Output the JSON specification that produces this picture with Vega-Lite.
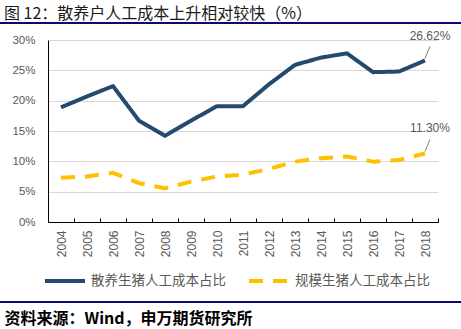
{
  "$schema": "https://vega.github.io/schema/vega-lite/v6.json",
  "width": 390,
  "height": 182,
  "autosize": {"type": "none"},
  "padding": {"left": 48, "top": 40, "right": 23, "bottom": 107},
  "background": "white",
  "title": {
    "text": "图 12：散养户人工成本上升相对较快（%）",
    "anchor": "start",
    "frame": "group",
    "orient": "top",
    "offset": 0,
    "dx": -44,
    "dy": 0,
    "font": "Noto Sans CJK SC",
    "fontSize": 16,
    "fontWeight": "normal",
    "color": "#1a1a1a"
  },
  "config": {
    "view": {"stroke": null},
    "font": "Liberation Sans"
  },
  "datasets": {
    "d": [
      {"year": "2004", "series": "散养生猪人工成本占比", "value": 0.189},
      {"year": "2005", "series": "散养生猪人工成本占比", "value": 0.207},
      {"year": "2006", "series": "散养生猪人工成本占比", "value": 0.224},
      {"year": "2007", "series": "散养生猪人工成本占比", "value": 0.167},
      {"year": "2008", "series": "散养生猪人工成本占比", "value": 0.142},
      {"year": "2009", "series": "散养生猪人工成本占比", "value": 0.167},
      {"year": "2010", "series": "散养生猪人工成本占比", "value": 0.191},
      {"year": "2011", "series": "散养生猪人工成本占比", "value": 0.191},
      {"year": "2012", "series": "散养生猪人工成本占比", "value": 0.227},
      {"year": "2013", "series": "散养生猪人工成本占比", "value": 0.259},
      {"year": "2014", "series": "散养生猪人工成本占比", "value": 0.271},
      {"year": "2015", "series": "散养生猪人工成本占比", "value": 0.278},
      {"year": "2016", "series": "散养生猪人工成本占比", "value": 0.247},
      {"year": "2017", "series": "散养生猪人工成本占比", "value": 0.248},
      {"year": "2018", "series": "散养生猪人工成本占比", "value": 0.2662},
      {"year": "2004", "series": "规模生猪人工成本占比", "value": 0.073},
      {"year": "2005", "series": "规模生猪人工成本占比", "value": 0.075},
      {"year": "2006", "series": "规模生猪人工成本占比", "value": 0.081},
      {"year": "2007", "series": "规模生猪人工成本占比", "value": 0.064},
      {"year": "2008", "series": "规模生猪人工成本占比", "value": 0.0555},
      {"year": "2009", "series": "规模生猪人工成本占比", "value": 0.0665},
      {"year": "2010", "series": "规模生猪人工成本占比", "value": 0.075},
      {"year": "2011", "series": "规模生猪人工成本占比", "value": 0.078},
      {"year": "2012", "series": "规模生猪人工成本占比", "value": 0.0875},
      {"year": "2013", "series": "规模生猪人工成本占比", "value": 0.0995},
      {"year": "2014", "series": "规模生猪人工成本占比", "value": 0.105},
      {"year": "2015", "series": "规模生猪人工成本占比", "value": 0.108},
      {"year": "2016", "series": "规模生猪人工成本占比", "value": 0.0995},
      {"year": "2017", "series": "规模生猪人工成本占比", "value": 0.102},
      {"year": "2018", "series": "规模生猪人工成本占比", "value": 0.113}
    ]
  },
  "data": {"name": "d"},
  "encoding": {
    "x": {
      "field": "year",
      "type": "ordinal",
      "scale": {"type": "band", "paddingInner": 0, "paddingOuter": 0},
      "axis": {
        "title": "资料来源：Wind，申万期货研究所",
        "titleFont": "Noto Sans CJK SC",
        "titleFontSize": 16,
        "titleFontWeight": "bold",
        "titleColor": "#000000",
        "titleAnchor": "start",
        "titleAlign": "left",
        "titleBaseline": "middle",
        "titleX": -44,
        "titleY": 96,
        "domainColor": "#000000",
        "domainWidth": 1,
        "tickColor": "#000000",
        "tickSize": -4,
        "tickBand": "extent",
        "labelAngle": -90,
        "labelFontSize": 12,
        "labelColor": "#595959",
        "labelPadding": 12,
        "grid": false
      }
    },
    "y": {
      "field": "value",
      "type": "quantitative",
      "scale": {"domain": [0, 0.3], "nice": false},
      "axis": {
        "title": null,
        "format": ".0%",
        "values": [0, 0.05, 0.1, 0.15, 0.2, 0.25, 0.3],
        "grid": true,
        "gridColor": "#d9d9d9",
        "gridWidth": 1,
        "domainColor": "#000000",
        "ticks": false,
        "labelPadding": 13,
        "labelFontSize": 11.5,
        "labelColor": "#595959"
      }
    }
  },
  "layer": [
    {
      "mark": {"type": "line", "strokeWidth": 4, "strokeJoin": "round", "strokeCap": "butt"},
      "encoding": {
        "color": {
          "field": "series",
          "type": "nominal",
          "scale": {"domain": ["散养生猪人工成本占比", "规模生猪人工成本占比"], "range": ["#244A6F", "#FFC000"]},
          "legend": {
            "title": null,
            "orient": "none",
            "legendX": -5,
            "legendY": 219,
            "direction": "horizontal",
            "symbolType": "stroke",
            "symbolSize": 1600,
            "symbolStrokeWidth": 4,
            "labelFont": "Noto Sans CJK SC",
            "labelFontSize": 13.5,
            "labelColor": "#595959",
            "labelOffset": 4,
            "columnPadding": 15,
            "labelLimit": 300
          }
        },
        "strokeDash": {
          "field": "series",
          "type": "nominal",
          "scale": {"domain": ["散养生猪人工成本占比", "规模生猪人工成本占比"], "range": [[1, 0], [14, 10]]},
          "legend": {
            "title": null,
            "orient": "none",
            "legendX": -5,
            "legendY": 219,
            "direction": "horizontal",
            "symbolType": "stroke",
            "symbolSize": 1600,
            "symbolStrokeWidth": 4,
            "labelFont": "Noto Sans CJK SC",
            "labelFontSize": 13.5,
            "labelColor": "#595959",
            "labelOffset": 4,
            "columnPadding": 15,
            "labelLimit": 300
          }
        }
      }
    },
    {
      "transform": [{"filter": "datum.year == '2018'"}],
      "mark": {"type": "rule", "color": "#808080", "strokeWidth": 1, "yOffset": -2, "y2Offset": -14, "x2Offset": 5},
      "encoding": {
        "x": {"field": "year", "type": "ordinal", "bandPosition": 0.5},
        "x2": {"field": "year", "bandPosition": 0.5},
        "y2": {"field": "value"}
      }
    },
    {
      "transform": [{"filter": "datum.year == '2018'"}],
      "mark": {"type": "text", "dx": 5, "dy": -25, "align": "center", "baseline": "middle", "fontSize": 12, "color": "#595959"},
      "encoding": {
        "text": {"field": "value", "type": "quantitative", "format": ".2%"}
      }
    },
    {
      "data": {"values": [{"pos": "top"}]},
      "mark": {"type": "rule", "color": "#0a0a6e", "strokeWidth": 2},
      "encoding": {
        "x": {"value": -48},
        "x2": {"value": 413},
        "y": {"value": -17}
      }
    },
    {
      "data": {"values": [{"pos": "bottom"}]},
      "mark": {"type": "rule", "color": "#0a0a6e", "strokeWidth": 2},
      "encoding": {
        "x": {"value": -48},
        "x2": {"value": 413},
        "y": {"value": 262}
      }
    }
  ]
}
